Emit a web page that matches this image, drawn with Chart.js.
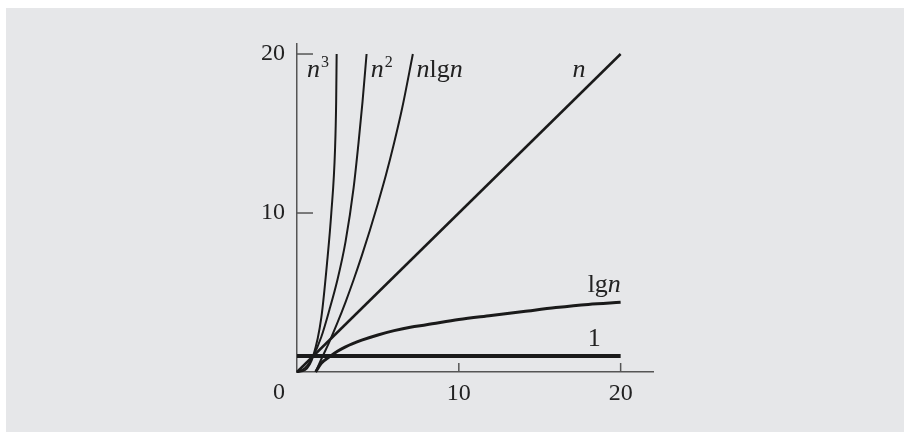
<!DOCTYPE html>
<html><head><meta charset="utf-8">
<script src="https://cdn.jsdelivr.net/npm/chart.js@4/dist/chart.umd.min.js"></script>
<style>
html,body{margin:0;padding:0;background:#fff;width:904px;height:432px;overflow:hidden;}
#panel{position:absolute;left:6px;top:8px;right:0;bottom:0;background:#e6e7e9;}
#wrap{position:absolute;left:0;top:0;width:904px;height:432px;}
</style></head><body>
<div id="panel"></div>
<div id="wrap"><canvas id="c" width="904" height="432"></canvas></div>
<script>
// ---- data ----
const cubeN  = [0, 0.5, 1, 1.5, 1.87, 2.12, 2.35, 2.42, 2.45];
const cubeV  = [0, 0.13, 1, 3.4, 7.0, 10, 14, 17, 20];
const sqN    = [0, 0.5, 1, 1.5, 2, 2.5, 3, 3.5, 3.8, 4.05, 4.3];
const sqV    = [0, 0.25, 1, 2.2, 3.9, 5.8, 8.2, 11.6, 14.4, 17, 20];
const nlgN   = [1.15, 1.5, 2, 2.5, 3, 3.5, 4, 4.5, 5, 5.5, 6, 6.5, 7.16];
const nlgV   = [0, 0.8, 1.9, 3.1, 4.4, 5.8, 7.3, 8.9, 10.6, 12.4, 14.4, 16.6, 20];
const linN   = [0, 20];
const linV   = [0, 20];
const lgN    = [1.15, 1.5, 2, 2.5, 3, 4, 5, 6, 7, 8, 10, 12, 14, 16, 18, 20];
const lgV    = [0, 0.55, 0.95, 1.3, 1.58, 2.0, 2.33, 2.6, 2.82, 2.97, 3.3, 3.55, 3.8, 4.05, 4.25, 4.38];
const oneN   = [0, 20];
const oneV   = [1, 1];
const xTicks = [10, 20];
const yTicks = [10, 20];
const originLabel = '0';

const pts = (xs, ys) => xs.map((x, i) => ({x, y: ys[i]}));
const serif = '"Liberation Serif", "DejaVu Serif", serif';

const curveLabels = [
  {x: 0.62,  y: 18.55, parts: [{t:'n', it:true}, {t:'3', sup:true}]},
  {x: 4.55,  y: 18.55, parts: [{t:'n', it:true}, {t:'2', sup:true}]},
  {x: 7.38,  y: 18.55, parts: [{t:'n', it:true}, {t:'lg'}, {t:'n', it:true}]},
  {x: 17.02, y: 18.55, parts: [{t:'n', it:true}]},
  {x: 17.96, y: 5.05,  parts: [{t:'lg'}, {t:'n', it:true}]},
  {x: 17.96, y: 1.64,  parts: [{t:'1'}]}
];

const extras = {
  id: 'extras',
  afterDraw(chart) {
    const ctx = chart.ctx, xs = chart.scales.x, ys = chart.scales.y;
    const left = xs.getPixelForValue(0), bottom = ys.getPixelForValue(0);
    ctx.save();
    ctx.strokeStyle = '#555';
    ctx.lineWidth = 1.5;
    yTicks.forEach(v => {
      const y = ys.getPixelForValue(v);
      ctx.beginPath(); ctx.moveTo(left, y); ctx.lineTo(left + 16, y); ctx.stroke();
    });
    xTicks.forEach(v => {
      const x = xs.getPixelForValue(v);
      ctx.beginPath(); ctx.moveTo(x, bottom); ctx.lineTo(x, bottom - 9); ctx.stroke();
    });
    ctx.fillStyle = '#222';
    ctx.font = '24px ' + serif;
    ctx.textAlign = 'center';
    ctx.textBaseline = 'alphabetic';
    ctx.fillText(originLabel, left - 18, bottom + 27);
    ctx.textAlign = 'left';
    curveLabels.forEach(l => {
      let x = xs.getPixelForValue(l.x);
      const y = ys.getPixelForValue(l.y);
      l.parts.forEach(p => {
        if (p.sup) {
          ctx.font = '16px ' + serif;
          ctx.fillText(p.t, x + 1, y - 10);
          x += ctx.measureText(p.t).width + 1;
        } else {
          ctx.font = (p.it ? 'italic ' : '') + '26px ' + serif;
          ctx.fillText(p.t, x, y);
          x += ctx.measureText(p.t).width;
        }
      });
    });
    ctx.restore();
  }
};

const mk = (label, data, w) => ({
  label, data, showLine: true, borderColor: '#1a1a1a', borderWidth: w,
  pointRadius: 0, fill: false, cubicInterpolationMode: 'monotone', clip: false
});

new Chart(document.getElementById('c'), {
  type: 'scatter',
  data: {
    datasets: [
      mk('n^3', pts(cubeN, cubeV), 2),
      mk('n^2', pts(sqN, sqV), 2),
      mk('n lg n', pts(nlgN, nlgV), 2),
      mk('n', pts(linN, linV), 2.5),
      mk('lg n', pts(lgN, lgV), 3),
      mk('1', pts(oneN, oneV), 4)
    ]
  },
  options: {
    responsive: false,
    animation: false,
    devicePixelRatio: 1,
    layout: {padding: {left: 247, right: 251, top: 44, bottom: 20}},
    plugins: {legend: {display: false}, tooltip: {enabled: false}},
    scales: {
      x: {
        type: 'linear', min: 0, max: 22,
        grid: {display: false, drawTicks: false},
        border: {display: true, color: '#555', width: 1.5},
        afterBuildTicks: s => { s.ticks = xTicks.map(v => ({value: v})); },
        afterFit: s => { s.height = 40; },
        ticks: {font: {family: serif, size: 24}, color: '#222', padding: 7, maxRotation: 0, autoSkip: false}
      },
      y: {
        type: 'linear', min: 0, max: 20.63,
        grid: {display: false, drawTicks: false},
        border: {display: true, color: '#555', width: 1.5},
        afterBuildTicks: s => { s.ticks = yTicks.map(v => ({value: v})); },
        afterFit: s => { s.width = 50; },
        ticks: {font: {family: serif, size: 24}, color: '#222', padding: 12, autoSkip: false}
      }
    }
  },
  plugins: [extras]
});
</script>
</body></html>
